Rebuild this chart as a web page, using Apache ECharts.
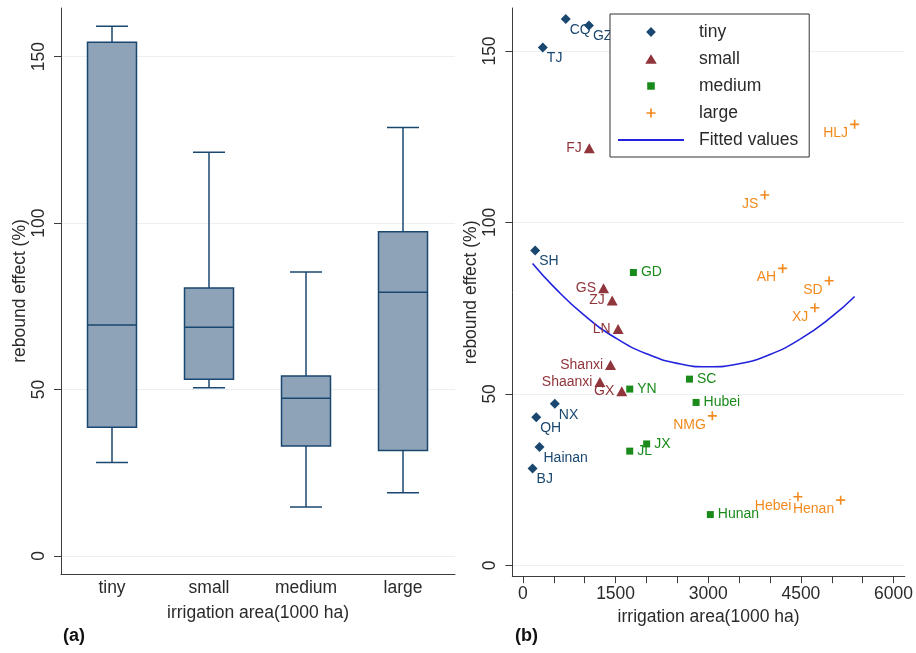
<!DOCTYPE html>
<html>
<head>
<meta charset="utf-8">
<script src="https://cdn.jsdelivr.net/npm/echarts@6/dist/echarts.min.js"></script>
<style>
html,body{margin:0;padding:0;background:#fff;}
#chart{width:916px;height:653px;}
</style>
</head>
<body>
<div id="chart"></div>
<script>
// ---- Panel (a): box plot data ----
const boxCategories = ['tiny', 'small', 'medium', 'large'];
const boxMin    = [28.1, 50.5, 14.7, 19.0];
const boxQ1     = [38.7, 53.1, 33.0, 31.7];
const boxMedian = [69.4, 68.7, 47.4, 79.2];
const boxQ3     = [154.3, 80.5, 54.1, 97.4];
const boxMax    = [159.1, 121.3, 85.3, 128.7];

// ---- Panel (b): scatter data ----
const tinyNames = ['CQ', 'GZ', 'TJ', 'SH', 'NX', 'QH', 'Hainan', 'BJ'];
const tinyX     = [693, 1068, 322, 198, 516, 215, 268, 156];
const tinyY     = [159.3, 157.4, 151.0, 91.8, 47.1, 43.2, 34.5, 28.2];

const smallNames = ['FJ', 'GS', 'ZJ', 'LN', 'Shanxi', 'Shaanxi', 'GX'];
const smallX     = [1074, 1305, 1445, 1541, 1418, 1246, 1600];
const smallY     = [121.6, 80.8, 77.2, 68.9, 58.4, 53.5, 50.8];

const mediumNames = ['GD', 'YN', 'SC', 'Hubei', 'JX', 'JL', 'Hunan'];
const mediumX     = [1788, 1729, 2696, 2803, 2003, 1729, 3034];
const mediumY     = [85.4, 51.4, 54.3, 47.5, 35.4, 33.3, 14.8];

const largeNames = ['HLJ', 'JS', 'AH', 'SD', 'XJ', 'NMG', 'Hebei', 'Henan'];
const largeX     = [5370, 3915, 4205, 4957, 4726, 3066, 4452, 5144];
const largeY     = [128.6, 108.0, 86.6, 83.0, 75.1, 43.6, 20.0, 19.0];

// Fitted values curve
const fitX = [156, 500, 1000, 1500, 2000, 2500, 3000, 3500, 4000, 4500, 5000, 5370];
const fitY = [88.0, 81.2, 72.8, 66.3, 61.7, 58.9, 57.9, 58.8, 61.5, 66.1, 72.5, 78.4];

// tick values
const yTicks = [0, 50, 100, 150];
const xTicksB = [0, 500, 1000, 1500, 2000, 2500, 3000, 3500, 4000, 4500, 5000, 5500, 6000];
const xLabelsB = [0, 1500, 3000, 4500, 6000];

const FONT = 'Liberation Sans, Arial, sans-serif';
const AXIS_COLOR = '#3c3c3c';
const TEXT_COLOR = '#2a2a2a';
const GRID_COLOR = '#ecf0f2';
const C_TINY = '#1a476f';
const C_SMALL = '#90353b';
const C_MEDIUM = '#1a8a1a';
const C_LARGE = '#f28a1e';
const C_FIT = '#2222dd';
const PLUS = 'path://M0.41,0 H0.59 V0.41 H1 V0.59 H0.59 V1 H0.41 V0.59 H0 V0.41 H0.41 Z';
// legend icons (path form so the aspect is kept; tiny corner specks set the bounding box)
const SPECK = 'M0,0 h0.01 v0.01 h-0.01 Z M10,10 h-0.01 v-0.01 h0.01 Z ';
const ICON_DIAMOND = 'path://' + SPECK + 'M5,0.6 L9.2,5 L5,9.4 L0.8,5 Z';
const ICON_TRIANGLE = 'path://' + SPECK + 'M5,0.8 L10,9.2 L0,9.2 Z';
const ICON_SQUARE = 'path://' + SPECK + 'M1.7,1.7 H8.3 V8.3 H1.7 Z';
const ICON_PLUS = 'path://' + SPECK + 'M4.25,1 H5.75 V4.25 H9 V5.75 H5.75 V9 H4.25 V5.75 H1 V4.25 H4.25 Z';

const boxData = boxCategories.map((c, i) => [i + 1, boxMin[i], boxQ1[i], boxMedian[i], boxQ3[i], boxMax[i]]);
const mk = (names, xs, ys) => names.map((n, i) => [xs[i], ys[i], n]);

function renderBox(params, api) {
  const x = api.value(0);
  const pMin = api.coord([x, api.value(1)]);
  const pQ1 = api.coord([x, api.value(2)]);
  const pMed = api.coord([x, api.value(3)]);
  const pQ3 = api.coord([x, api.value(4)]);
  const pMax = api.coord([x, api.value(5)]);
  const cx = pMed[0];
  const half = 24.5, cap = 16;
  const st = { stroke: C_TINY, lineWidth: 1.5, fill: null };
  return {
    type: 'group',
    children: [
      { type: 'line', shape: { x1: cx, y1: pMax[1], x2: cx, y2: pQ3[1] }, style: st },
      { type: 'line', shape: { x1: cx - cap, y1: pMax[1], x2: cx + cap, y2: pMax[1] }, style: st },
      { type: 'line', shape: { x1: cx, y1: pQ1[1], x2: cx, y2: pMin[1] }, style: st },
      { type: 'line', shape: { x1: cx - cap, y1: pMin[1], x2: cx + cap, y2: pMin[1] }, style: st },
      { type: 'rect', shape: { x: cx - half, y: pQ3[1], width: 2 * half, height: pQ1[1] - pQ3[1] },
        style: { fill: '#8ea3b8', stroke: C_TINY, lineWidth: 1.5 } },
      { type: 'line', shape: { x1: cx - half, y1: pMed[1], x2: cx + half, y2: pMed[1] }, style: st }
    ]
  };
}

const yAxisCommon = {
  type: 'value',
  name: 'rebound effect (%)',
  nameLocation: 'middle',
  nameGap: 31,
  nameTextStyle: { fontFamily: FONT, fontSize: 17.5, color: TEXT_COLOR },
  axisLine: { show: true, onZero: false, lineStyle: { color: AXIS_COLOR, width: 1 } },
  axisTick: { show: true, length: 7, customValues: yTicks, lineStyle: { color: AXIS_COLOR } },
  axisLabel: { customValues: yTicks, rotate: 90, margin: 13, fontFamily: FONT, fontSize: 17.5, color: TEXT_COLOR,
    formatter: v => String(v) },
  splitLine: { show: true, lineStyle: { color: GRID_COLOR, width: 1 } }
};

const option = {
  animation: false,
  backgroundColor: '#fff',
  textStyle: { fontFamily: FONT },
  grid: [
    { left: 61, top: 8, width: 394, height: 566 },
    { left: 512.3, top: 8, width: 394.4, height: 568.7 }
  ],
  xAxis: [
    {
      gridIndex: 0, type: 'value', min: 0.4742, max: 4.536,
      name: 'irrigation area(1000 ha)', nameLocation: 'middle', nameGap: 30,
      nameTextStyle: { fontFamily: FONT, fontSize: 17.5, color: TEXT_COLOR },
      axisLine: { show: true, onZero: false, lineStyle: { color: AXIS_COLOR } },
      axisTick: { show: false },
      splitLine: { show: false },
      axisLabel: { customValues: [1, 2, 3, 4], margin: 5, fontFamily: FONT, fontSize: 17.5, color: TEXT_COLOR,
        formatter: v => boxCategories[Math.round(v) - 1] }
    },
    {
      gridIndex: 1, type: 'value', min: -172.4, max: 6183,
      name: 'irrigation area(1000 ha)', nameLocation: 'middle', nameGap: 28,
      nameTextStyle: { fontFamily: FONT, fontSize: 17.5, color: TEXT_COLOR },
      axisLine: { show: true, onZero: false, lineStyle: { color: AXIS_COLOR } },
      axisTick: { show: true, length: 6.5, customValues: xTicksB, lineStyle: { color: AXIS_COLOR } },
      splitLine: { show: false },
      axisLabel: { customValues: xLabelsB, margin: 8.5, fontFamily: FONT, fontSize: 17.5, color: TEXT_COLOR,
        formatter: v => String(v) }
    }
  ],
  yAxis: [
    Object.assign({}, yAxisCommon, { gridIndex: 0, min: -5.41, max: 164.6 }),
    Object.assign({}, yAxisCommon, { gridIndex: 1, min: -3.32, max: 162.54 })
  ],
  legend: {
    data: [
      { name: 'tiny', icon: ICON_DIAMOND },
      { name: 'small', icon: ICON_TRIANGLE },
      { name: 'medium', icon: ICON_SQUARE },
      { name: 'large', icon: ICON_PLUS },
      { name: 'Fitted values', itemStyle: { opacity: 0 } }
    ],
    orient: 'vertical',
    left: 610, top: 14,
    padding: [9, 11, 8, 7],
    itemWidth: 66, itemHeight: 11.5, itemGap: 9,
    symbolKeepAspect: true,
    borderColor: '#333', borderWidth: 1, backgroundColor: '#fff',
    textStyle: { fontFamily: FONT, fontSize: 17.5, color: TEXT_COLOR, lineHeight: 17, padding: [0, 0, 0, 10] }
  },
  graphic: [
    { type: 'text', left: 63, top: 627, style: { text: '(a)', font: 'bold 18px ' + FONT, fill: '#111' } },
    { type: 'text', left: 515, top: 627, style: { text: '(b)', font: 'bold 18px ' + FONT, fill: '#111' } }
  ],
  series: [
    {
      type: 'custom', name: 'box', xAxisIndex: 0, yAxisIndex: 0,
      renderItem: renderBox, data: boxData, encode: { x: 0, y: [1, 2, 3, 4, 5] }
    },
    {
      type: 'line', name: 'Fitted values', xAxisIndex: 1, yAxisIndex: 1,
      data: fitX.map((x, i) => [x, fitY[i]]), smooth: true, showSymbol: false, symbol: 'none',
      lineStyle: { color: C_FIT, width: 1.6 }, itemStyle: { color: C_FIT }, z: 2
    },
    {
      type: 'scatter', name: 'tiny', xAxisIndex: 1, yAxisIndex: 1, symbol: 'diamond', symbolSize: 10,
      itemStyle: { color: C_TINY, opacity: 1 }, data: mk(tinyNames, tinyX, tinyY), z: 3,
      label: { show: true, formatter: p => p.data[2], position: 'right', distance: 0, offset: [-1, 11],
        color: C_TINY, fontFamily: FONT, fontSize: 14 }
    },
    {
      type: 'scatter', name: 'small', xAxisIndex: 1, yAxisIndex: 1, symbol: 'triangle', symbolSize: [11, 10],
      itemStyle: { color: C_SMALL, opacity: 1 }, data: mk(smallNames, smallX, smallY), z: 3,
      label: { show: true, formatter: p => p.data[2], position: 'left', distance: 2,
        color: C_SMALL, fontFamily: FONT, fontSize: 14 }
    },
    {
      type: 'scatter', name: 'medium', xAxisIndex: 1, yAxisIndex: 1, symbol: 'rect', symbolSize: 7,
      itemStyle: { color: C_MEDIUM, opacity: 1 }, data: mk(mediumNames, mediumX, mediumY), z: 3,
      label: { show: true, formatter: p => p.data[2], position: 'right', distance: 4,
        color: C_MEDIUM, fontFamily: FONT, fontSize: 14 }
    },
    {
      type: 'scatter', name: 'large', xAxisIndex: 1, yAxisIndex: 1, symbol: PLUS, symbolSize: 9,
      itemStyle: { color: C_LARGE, opacity: 1 }, data: mk(largeNames, largeX, largeY), z: 3,
      label: { show: true, formatter: p => p.data[2], position: 'left', distance: 2, offset: [0, 9],
        color: C_LARGE, fontFamily: FONT, fontSize: 14 }
    }
  ]
};

const chart = echarts.init(document.getElementById('chart'), null, { renderer: 'canvas' });
chart.setOption(option);
</script>
</body>
</html>
